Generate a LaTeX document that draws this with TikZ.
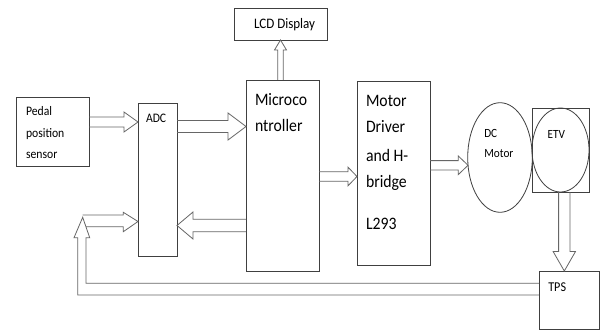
\documentclass[tikz,border=0pt]{standalone}
\usepackage{fontspec}
\setmainfont{Carlito}
\usetikzlibrary{calc,shapes.geometric}
% hollow block arrows: #1 start point, #2 tip point, #3 shaft half width, #4 head half width, #5 head length
\newcommand\arrR[5]{\draw[arr] let \p1=(#1), \p2=(#2) in (\x1,\y2+#3) -- (\x2-#5,\y2+#3) -- (\x2-#5,\y2+#4) -- (\x2,\y2) -- (\x2-#5,\y2-#4) -- (\x2-#5,\y2-#3) -- (\x1,\y2-#3);}
\newcommand\arrL[5]{\draw[arr] let \p1=(#1), \p2=(#2) in (\x1,\y2+#3) -- (\x2+#5,\y2+#3) -- (\x2+#5,\y2+#4) -- (\x2,\y2) -- (\x2+#5,\y2-#4) -- (\x2+#5,\y2-#3) -- (\x1,\y2-#3);}
\newcommand\arrU[5]{\draw[arr] let \p1=(#1), \p2=(#2) in (\x2+#3,\y1) -- (\x2+#3,\y2-#5) -- (\x2+#4,\y2-#5) -- (\x2,\y2) -- (\x2-#4,\y2-#5) -- (\x2-#3,\y2-#5) -- (\x2-#3,\y1);}
\newcommand\arrD[5]{\draw[arr] let \p1=(#1), \p2=(#2) in (\x2+#3,\y1) -- (\x2+#3,\y2+#5) -- (\x2+#4,\y2+#5) -- (\x2,\y2) -- (\x2-#4,\y2+#5) -- (\x2-#3,\y2+#5) -- (\x2-#3,\y1);}
\newcommand\hsq[1]{\scalebox{0.9}[1]{#1}}
\begin{document}
\begin{tikzpicture}[x=1pt,y=-1pt,
  box/.style={draw=black!75, line width=0.8pt, inner sep=0pt, outer sep=0pt},
  arr/.style={draw=black!60, line width=0.8pt, line join=miter},
  lbl/.style={anchor=base west, inner sep=0pt, outer sep=0pt, text=black},
  fbig/.style={font=\fontsize{17.5pt}{19pt}\selectfont},
  fmid/.style={font=\fontsize{13pt}{15pt}\selectfont},
  fsml/.style={font=\fontsize{12.5pt}{14pt}\selectfont}]
\fill[white] (0,0) rectangle (601,331);
\useasboundingbox (0,0) rectangle (601,331);

% blocks
\node[box, minimum width=73pt, minimum height=69pt] (pedal) at (52.5,131.5) {};
\node[box, minimum width=39pt, minimum height=153pt] (adc) at (157.5,179.5) {};
\node[box, minimum width=73pt, minimum height=191pt] (micro) at (282.5,175.5) {};
\node[box, minimum width=93pt, minimum height=32pt] (lcd) at (280.5,24) {};
\node[box, minimum width=73pt, minimum height=184pt] (driver) at (393.5,173) {};
\node[box, ellipse, minimum width=64.6pt, minimum height=109.6pt] (dc) at (500,157.5) {};
\node[box, minimum width=57pt, minimum height=84pt] (etv) at (560.5,150) {};
\node[box, ellipse, minimum width=57pt, minimum height=84pt] (etvvalve) at (etv.center) {};
\node[box, minimum width=60pt, minimum height=58pt] (tps) at (569,300) {};

% texts
\node[lbl, fmid] (ped1) at (26,116) {\hsq{Pedal}};
\node[lbl, fmid] (ped2) at (26,137.7) {\hsq{position}};
\node[lbl, fmid] (ped3) at (26,158) {\hsq{sensor}};
\node[lbl, fmid] (adctxt) at (146,122.7) {\hsq{ADC}};
\node[lbl, font=\fontsize{14.5pt}{16pt}\selectfont] (lcdtxt) at (254,29) {\hsq{LCD Display}};
\node[lbl, fbig] (mic1) at (255,105.5) {\hsq{Microco}};
\node[lbl, fbig] (mic2) at (255,131.7) {\hsq{ntroller}};
\node[lbl, fbig] (drv1) at (366,106.5) {\hsq{Motor}};
\node[lbl, fbig] (drv2) at (366,132.7) {\hsq{Driver}};
\node[lbl, fbig] (drv3) at (366,161) {\hsq{and H-}};
\node[lbl, fbig] (drv4) at (366,187.7) {\hsq{bridge}};
\node[lbl, fbig] (drv5) at (366,229) {\hsq{L293}};
\node[lbl, fsml] (dc1) at (484.3,137.8) {\hsq{DC}};
\node[lbl, fsml] (dc2) at (484.3,157.5) {\hsq{Motor}};
\node[lbl, fsml] (etvtxt) at (547.7,138.3) {\hsq{ETV}};
\node[lbl, font=\fontsize{13.5pt}{15pt}\selectfont] (tpstxt) at (548.3,291) {\hsq{TPS}};

% block arrows
\arrR{pedal.east}{$(adc.west)+(0,-57.5)$}{5pt}{10pt}{14pt}
\arrR{adc.east}{$(micro.west)+(0,-49)$}{6pt}{13.5pt}{18pt}
\arrL{micro.west}{$(adc.east)+(0,46)$}{6.3pt}{13.5pt}{16pt}
\arrU{micro.north}{lcd.south}{2.8pt}{6pt}{10pt}
\arrR{micro.east}{$(driver.west)+(0,3.5)$}{4.7pt}{9.3pt}{9pt}
\arrR{driver.east}{$(dc.west)+(0.3,7.8)$}{4.7pt}{9.3pt}{9.7pt}
\arrD{etv.south}{$(tps.north)+(-4.7,0)$}{5.7pt}{11.2pt}{19.5pt}

% feedback from TPS to ADC
\coordinate (fbtip) at (82.7,217.3);
\draw[arr] ($(tps.west)+(0,-16.7)$) -- (86,283.3) -- (86,237.7) -- (89.7,237.7) -- (fbtip)
  -- (74,237.7) -- (77.7,237.7) -- (77.7,295) -- ($(tps.west)+(0,-5)$);
\draw[arr] (82.7,215) -- (123.3,215) -- (123.3,212.3) -- ($(adc.west)+(0,42)$)
  -- (123.3,231.7) -- (123.3,226.7) -- (85.9,226.7);
\end{tikzpicture}
\end{document}
